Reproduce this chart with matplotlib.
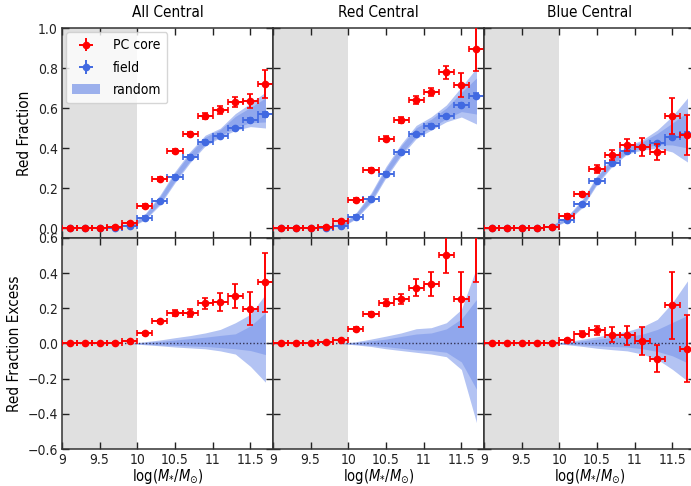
import numpy as np
import matplotlib
matplotlib.use("Agg")
import matplotlib.pyplot as plt
from matplotlib.patches import Patch

plt.rcParams['font.family'] = ['DejaVu Sans']
plt.rcParams['font.stretch'] = 'condensed'
plt.rcParams['axes.unicode_minus'] = True

# stellar-mass bin centres and half widths
mass = [9.1, 9.3, 9.5, 9.7, 9.9, 10.1, 10.3, 10.5, 10.7, 10.9, 11.1, 11.3, 11.5, 11.7]
mass_halfwidth = 0.1
band_mass = [9.9, 10.1, 10.3, 10.5, 10.7, 10.9, 11.1, 11.3, 11.5, 11.7]

titles = ["All Central", "Red Central", "Blue Central"]

# red fraction of PC-core satellites
pc_all = [0, 0, 0, 0.004, 0.025, 0.11, 0.245, 0.387, 0.47, 0.562, 0.59, 0.632, 0.635, 0.72]
pc_all_err = [0.003, 0.003, 0.003, 0.004, 0.007, 0.01, 0.01, 0.01, 0.012, 0.015, 0.018, 0.025, 0.035, 0.07]
pc_red = [0, 0, 0, 0.007, 0.033, 0.138, 0.292, 0.447, 0.54, 0.64, 0.68, 0.778, 0.715, 0.895]
pc_red_err = [0.003, 0.003, 0.003, 0.004, 0.008, 0.01, 0.01, 0.012, 0.015, 0.018, 0.022, 0.033, 0.058, 0.11]
pc_blue = [0, 0, 0, 0.002, 0.007, 0.062, 0.17, 0.295, 0.365, 0.417, 0.407, 0.378, 0.56, 0.465]
pc_blue_err = [0.003, 0.003, 0.003, 0.003, 0.005, 0.008, 0.012, 0.018, 0.025, 0.03, 0.045, 0.04, 0.09, 0.1]

# red fraction of field galaxies
field_all = [0, 0, 0, 0.002, 0.008, 0.052, 0.135, 0.257, 0.357, 0.432, 0.462, 0.498, 0.54, 0.568]
field_red = [0, 0, 0, 0.002, 0.01, 0.057, 0.147, 0.272, 0.378, 0.468, 0.512, 0.558, 0.615, 0.662]
field_blue = [0, 0, 0, 0.001, 0.005, 0.04, 0.12, 0.237, 0.327, 0.387, 0.403, 0.423, 0.457, 0.47]
field_err = [0.004, 0.004, 0.004, 0.004, 0.005, 0.006, 0.006, 0.007, 0.007, 0.008, 0.008, 0.009, 0.01, 0.012]

# random-sample red fraction: mean, inner and outer half widths
rand_all_mid = [0.008, 0.055, 0.14, 0.255, 0.355, 0.437, 0.476, 0.53, 0.565, 0.59]
rand_all_out = [0.006, 0.015, 0.025, 0.028, 0.028, 0.027, 0.023, 0.042, 0.058, 0.09]
rand_all_in = [0.004, 0.01, 0.017, 0.019, 0.019, 0.018, 0.016, 0.028, 0.038, 0.06]
rand_red_mid = [0.008, 0.06, 0.15, 0.28, 0.39, 0.48, 0.523, 0.573, 0.63, 0.66]
rand_red_out = [0.006, 0.015, 0.025, 0.028, 0.03, 0.033, 0.033, 0.042, 0.075, 0.14]
rand_red_in = [0.004, 0.01, 0.016, 0.018, 0.02, 0.021, 0.021, 0.027, 0.048, 0.09]
rand_blue_mid = [0.008, 0.045, 0.12, 0.24, 0.33, 0.39, 0.415, 0.445, 0.47, 0.49]
rand_blue_out = [0.006, 0.012, 0.02, 0.022, 0.022, 0.02, 0.025, 0.045, 0.09, 0.16]
rand_blue_in = [0.004, 0.008, 0.013, 0.014, 0.014, 0.013, 0.016, 0.028, 0.055, 0.09]

# red fraction excess of PC-core satellites
exc_all = [0, 0, 0, 0.004, 0.013, 0.057, 0.126, 0.173, 0.175, 0.229, 0.236, 0.27, 0.198, 0.347]
exc_all_err = [0.003, 0.003, 0.003, 0.004, 0.006, 0.008, 0.01, 0.015, 0.023, 0.03, 0.05, 0.067, 0.095, 0.17]
exc_red = [0, 0, 0, 0.006, 0.021, 0.082, 0.168, 0.232, 0.253, 0.318, 0.337, 0.503, 0.251, 0.63]
exc_red_err = [0.003, 0.003, 0.003, 0.004, 0.007, 0.01, 0.012, 0.02, 0.03, 0.047, 0.067, 0.1, 0.155, 0.28]
exc_blue = [0, 0, 0, 0, 0.002, 0.019, 0.055, 0.074, 0.051, 0.046, 0.013, -0.086, 0.217, -0.029]
exc_blue_err = [0.003, 0.003, 0.003, 0.003, 0.004, 0.008, 0.015, 0.028, 0.04, 0.055, 0.08, 0.076, 0.19, 0.19]

# random-sample excess envelopes (outer lo/hi, inner lo/hi)
rx_all_lo2 = [0, -0.007, -0.013, -0.02, -0.025, -0.03, -0.042, -0.06, -0.13, -0.22]
rx_all_lo1 = [0, -0.004, -0.008, -0.011, -0.014, -0.017, -0.023, -0.03, -0.04, -0.063]
rx_all_hi1 = [0, 0.006, 0.012, 0.02, 0.028, 0.036, 0.046, 0.055, 0.1, 0.175]
rx_all_hi2 = [0, 0.01, 0.02, 0.033, 0.045, 0.06, 0.08, 0.118, 0.166, 0.28]
rx_red_lo2 = [0, -0.008, -0.017, -0.03, -0.04, -0.05, -0.06, -0.075, -0.148, -0.45]
rx_red_lo1 = [0, -0.005, -0.01, -0.018, -0.027, -0.036, -0.04, -0.05, -0.105, -0.26]
rx_red_hi1 = [0, 0.006, 0.015, 0.025, 0.04, 0.054, 0.06, 0.083, 0.14, 0.25]
rx_red_hi2 = [0, 0.01, 0.025, 0.042, 0.06, 0.084, 0.09, 0.118, 0.194, 0.43]
rx_blue_lo2 = [0, -0.007, -0.016, -0.027, -0.035, -0.042, -0.06, -0.09, -0.147, -0.213]
rx_blue_lo1 = [0, -0.004, -0.008, -0.013, -0.017, -0.02, -0.03, -0.045, -0.07, -0.11]
rx_blue_hi1 = [0, 0.006, 0.015, 0.025, 0.033, 0.04, 0.053, 0.08, 0.12, 0.16]
rx_blue_hi2 = [0, 0.01, 0.024, 0.038, 0.054, 0.07, 0.095, 0.137, 0.232, 0.356]

top_sets = [
    (pc_all, pc_all_err, field_all, rand_all_mid, rand_all_in, rand_all_out),
    (pc_red, pc_red_err, field_red, rand_red_mid, rand_red_in, rand_red_out),
    (pc_blue, pc_blue_err, field_blue, rand_blue_mid, rand_blue_in, rand_blue_out),
]
bot_sets = [
    (exc_all, exc_all_err, rx_all_lo2, rx_all_lo1, rx_all_hi1, rx_all_hi2),
    (exc_red, exc_red_err, rx_red_lo2, rx_red_lo1, rx_red_hi1, rx_red_hi2),
    (exc_blue, exc_blue_err, rx_blue_lo2, rx_blue_lo1, rx_blue_hi1, rx_blue_hi2),
]

BLUE = "royalblue"
RED = "red"
GREY = "#e0e0e0"

W, H = 691, 486
fig = plt.figure(figsize=(W / 100, H / 100), dpi=100)

lefts = [62, 273, 484]
pw = 211
top_y0, top_y1 = 238, 28
bot_y0, bot_y1 = 449, 238


def frame(px0, py_bottom, py_top):
    return [px0 / W, 1 - py_bottom / H, pw / W, (py_bottom - py_top) / H]


def style(ax):
    ax.set_xlim(9, 11.8)
    ax.set_xticks([9, 9.5, 10, 10.5, 11, 11.5])
    ax.set_xticklabels(["9", "9.5", "10", "10.5", "11", "11.5"])
    ax.tick_params(direction="in", top=True, right=True, length=5, width=1,
                   labelsize=10, colors="#222222", pad=3)
    for s in ax.spines.values():
        s.set_color("#333333")
        s.set_linewidth(1.1)
    ax.axvspan(9, 10, color=GREY, lw=0, zorder=0.5)


eb_kw = dict(fmt="o", ms=4.5, capsize=2, elinewidth=1.4, capthick=1.2)

for i in range(3):
    pc, pc_err, fld, rmid, rin, rout = top_sets[i]
    ax = fig.add_axes(frame(lefts[i], top_y0, top_y1))
    style(ax)
    ax.set_ylim(-0.05, 1.0)
    ax.set_yticks([0.0, 0.2, 0.4, 0.6, 0.8, 1.0])
    rmid_a, rin_a, rout_a = np.array(rmid), np.array(rin), np.array(rout)
    ax.fill_between(band_mass, rmid_a - rout_a, rmid_a + rout_a, color=BLUE,
                    alpha=0.4, lw=0, zorder=1)
    ax.fill_between(band_mass, rmid_a - rin_a, rmid_a + rin_a, color=BLUE,
                    alpha=0.3, lw=0, zorder=1)
    ax.errorbar(mass, pc, yerr=pc_err, xerr=mass_halfwidth, color=RED,
                zorder=4, **eb_kw)
    ax.errorbar(mass, fld, yerr=field_err, xerr=mass_halfwidth, color=BLUE,
                zorder=3, **eb_kw)
    ax.set_title(titles[i], fontsize=11, pad=8)
    ax.tick_params(labelbottom=False)
    if i == 0:
        ax.set_ylabel("Red Fraction", fontsize=11)
        h1 = ax.errorbar([], [], yerr=[], xerr=[], color=RED, **eb_kw)
        h2 = ax.errorbar([], [], yerr=[], xerr=[], color=BLUE, **eb_kw)
        h3 = Patch(facecolor=BLUE, alpha=0.5, lw=0)
        ax.legend([h1, h2, h3], ["PC core", "field", "random"],
                  loc="upper left", fontsize=10, frameon=True,
                  handlelength=2.0, borderpad=0.45, labelspacing=0.6,
                  handletextpad=0.9, borderaxespad=0.3)
    else:
        ax.tick_params(labelleft=False)

for i in range(3):
    exc, exc_err, lo2, lo1, hi1, hi2 = bot_sets[i]
    ax = fig.add_axes(frame(lefts[i], bot_y0, bot_y1))
    style(ax)
    ax.set_ylim(-0.6, 0.6)
    ax.set_yticks([-0.6, -0.4, -0.2, 0.0, 0.2, 0.4, 0.6])
    ax.fill_between(band_mass, lo2, hi2, color=BLUE, alpha=0.4, lw=0, zorder=1)
    ax.fill_between(band_mass, lo1, hi1, color=BLUE, alpha=0.3, lw=0, zorder=1)
    ax.axhline(0, color="#333355", lw=1.0, ls=(0, (1, 1.5)), zorder=2)
    ax.errorbar(mass, exc, yerr=exc_err, xerr=mass_halfwidth, color=RED,
                zorder=4, **eb_kw)
    ax.set_xlabel(r"log($M_{*}/M_{\odot}$)", fontsize=10.5, labelpad=0)
    if i == 0:
        ax.set_ylabel("Red Fraction Excess", fontsize=11)
    else:
        ax.tick_params(labelleft=False)

fig.savefig("out.png", dpi=100)
